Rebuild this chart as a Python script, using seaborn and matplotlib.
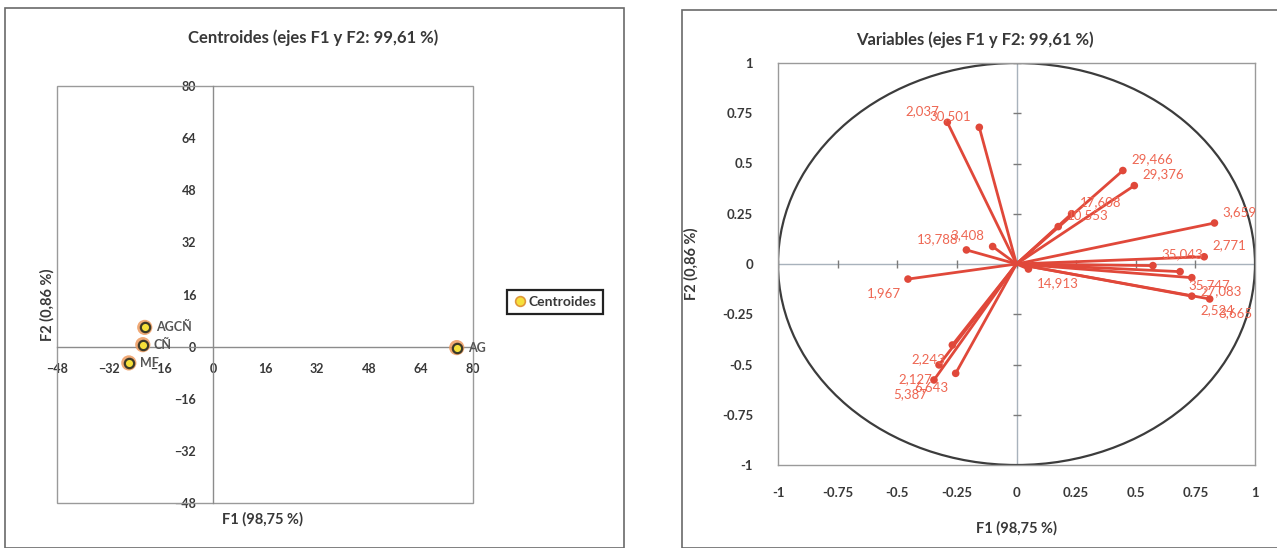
import matplotlib
matplotlib.use("Agg")
import matplotlib.pyplot as plt
from matplotlib.patches import Rectangle, Circle
from matplotlib.lines import Line2D
import seaborn as sns
import pandas as pd

# Centroides (F1, F2)
cent_names = ["AGCÑ", "CÑ", "MF", "AG"]
cent_f1 = [-21.0, -21.6, -25.9, 75.0]
cent_f2 = [5.9, 0.6, -5.0, -0.3]
cent_ticks = [-48, -32, -16, 0, 16, 32, 48, 64, 80]

# Variables (circulo de correlaciones)
var_labels = ["2,037", "30,501", "29,466", "29,376", "17,608", "10,553", "3,659",
              "13,788", "3,408", "1,967", "35,043", "2,771", "35,747", "27,083",
              "2,524", "3,665", "14,913", "2,243", "2,127", "6,643", "5,387"]
var_f1 = [-0.29, -0.156, 0.446, 0.494, 0.231, 0.175, 0.83,
          -0.21, -0.10, -0.455, 0.572, 0.787, 0.686, 0.735,
          0.735, 0.81, 0.05, -0.269, -0.325, -0.255, -0.346]
var_f2 = [0.705, 0.68, 0.465, 0.39, 0.25, 0.186, 0.204,
          0.07, 0.087, -0.075, -0.008, 0.036, -0.038, -0.068,
          -0.16, -0.174, -0.025, -0.403, -0.502, -0.544, -0.577]
var_ticks = [-1, -0.75, -0.5, -0.25, 0, 0.25, 0.5, 0.75, 1]
var_tick_labels = ["-1", "-0.75", "-0.5", "-0.25", "0", "0.25", "0.5", "0.75", "1"]

# lado de la etiqueta respecto al punto (estilo)
label_side = ["ul", "ul", "ur", "ur", "ur", "ur", "ur",
              "ul", "ul", "dl", "ur", "ur", "dr", "dr",
              "dr", "dr", "dr", "dl", "dl", "dl", "dl"]
side_offsets = {"ur": (6, 8, "left"), "ul": (-6, 8, "right"),
                "dr": (6, -10, "left"), "dl": (-5, -10, "right")}

sns.set_theme(style="white")
plt.rcParams["font.family"] = ["Lato", "DejaVu Sans"]

W, H = 1277, 548
TXT = "#383838"
RED = "#e0483a"

fig = plt.figure(figsize=(W / 100, H / 100), dpi=100)

# bordes de los dos paneles
fig.patches.append(Rectangle((5 / W, 0), 619 / W, 1 - 8 / H, transform=fig.transFigure,
                             fill=False, ec="#6a6a6a", lw=1.2))
fig.patches.append(Rectangle((682 / W, 0), 600 / W, 1 - 10 / H, transform=fig.transFigure,
                             fill=False, ec="#6a6a6a", lw=1.2))

# ---------------- Panel izquierdo: centroides ----------------
ax1 = fig.add_axes([57 / W, 1 - 503 / H, 416 / W, 417 / H])
df_c = pd.DataFrame({"F1": cent_f1, "F2": cent_f2, "name": cent_names})
ax1.set_xlim(-48, 80)
ax1.set_ylim(-48, 80)
for s in ["top", "right"]:
    ax1.spines[s].set_visible(False)
ax1.spines["left"].set_position(("data", 0))
ax1.spines["bottom"].set_position(("data", 0))
for s in ["left", "bottom"]:
    ax1.spines[s].set_color("#8c8c8c")
    ax1.spines[s].set_linewidth(1)
ax1.add_patch(Rectangle((0, 0), 1, 1, transform=ax1.transAxes, fill=False,
                        ec="#9a9a9a", lw=1, clip_on=False))
ax1.set_xticks(cent_ticks)
ax1.set_yticks(cent_ticks)
ax1.tick_params(direction="inout", length=6, width=1, color="#8c8c8c",
                labelsize=9, labelcolor=TXT, pad=9)
for lab in ax1.get_xticklabels() + ax1.get_yticklabels():
    lab.set_fontweight("bold")

sns.scatterplot(data=df_c, x="F1", y="F2", ax=ax1, s=120, color="#ee9a5e",
                edgecolor="none", alpha=0.85, legend=False, zorder=3)
sns.scatterplot(data=df_c, x="F1", y="F2", ax=ax1, s=45, color="#f6e03a",
                edgecolor="#3d3a28", linewidth=1.6, legend=False, zorder=4)
for _, row in df_c.iterrows():
    ax1.annotate(row["name"], (row["F1"], row["F2"]), textcoords="offset points",
                 xytext=(8, 0), va="center", fontsize=9, fontweight="bold",
                 color="#555555")
ax1.set_xlabel("")
ax1.set_ylabel("")

fig.text(313 / W, 1 - 38 / H, "Centroides (ejes F1 y F2: 99,61 %)", ha="center",
         va="center", fontsize=12, fontweight="bold", color=TXT)
fig.text(262 / W, 1 - 519 / H, "F1 (98,75 %)", ha="center", va="center",
         fontsize=10.5, fontweight="bold", color=TXT)
fig.text(47 / W, 1 - 305 / H, "F2 (0,86 %)", ha="center", va="center", rotation=90,
         fontsize=10.5, fontweight="bold", color=TXT)

handle = Line2D([], [], ls="none", marker="o", ms=7, mfc="#f6e03a", mec="#e0983a", mew=1.2)
leg = fig.legend([handle], ["Centroides"], loc="center",
                 bbox_to_anchor=(555 / W, 1 - 302 / H), frameon=True, fancybox=False,
                 framealpha=1, edgecolor="#222222", handletextpad=0.1, handlelength=1.0,
                 borderpad=0.45, prop={"weight": "bold", "size": 10})
leg.get_frame().set_linewidth(1.6)
for t in leg.get_texts():
    t.set_color(TXT)

# ---------------- Panel derecho: variables ----------------
ax2 = fig.add_axes([778 / W, 1 - 465 / H, 477 / W, 402 / H])
df_v = pd.DataFrame({"F1": var_f1, "F2": var_f2, "label": var_labels, "side": label_side})
ax2.set_xlim(-1, 1)
ax2.set_ylim(-1, 1)
for s in ax2.spines.values():
    s.set_color("#9a9a9a")
    s.set_linewidth(1)
ax2.set_xticks(var_ticks)
ax2.set_yticks(var_ticks)
ax2.set_xticklabels(var_tick_labels)
ax2.set_yticklabels(var_tick_labels)
ax2.tick_params(length=0, labelsize=9.5, labelcolor=TXT)
ax2.tick_params(axis="x", pad=16)
ax2.tick_params(axis="y", pad=18)
for lab in ax2.get_xticklabels() + ax2.get_yticklabels():
    lab.set_fontweight("bold")

ax2.axhline(0, color="#a8b2bc", lw=1, zorder=1)
ax2.axvline(0, color="#a8b2bc", lw=1, zorder=1)
ax2.plot(var_ticks, [0] * len(var_ticks), ls="none", marker="|", ms=6,
         mew=1, color="#7a7a7a", zorder=1)
ax2.plot([0] * len(var_ticks), var_ticks, ls="none", marker="_", ms=6,
         mew=1, color="#7a7a7a", zorder=1)
ax2.add_patch(Circle((0, 0), 1, fill=False, ec="#3c3c3c", lw=1.6, zorder=2))

for _, row in df_v.iterrows():
    ax2.plot([0, row["F1"]], [0, row["F2"]], color=RED, lw=2, zorder=3,
             solid_capstyle="round")
sns.scatterplot(data=df_v, x="F1", y="F2", ax=ax2, s=30, color=RED,
                edgecolor="none", legend=False, zorder=4)
for _, row in df_v.iterrows():
    dx, dy, ha = side_offsets[row["side"]]
    ax2.annotate(row["label"], (row["F1"], row["F2"]), textcoords="offset points",
                 xytext=(dx, dy), ha=ha, va="center", fontsize=9.5, color="#ee6652",
                 zorder=5)
ax2.set_xlabel("")
ax2.set_ylabel("")

fig.text(975 / W, 1 - 40 / H, "Variables (ejes F1 y F2: 99,61 %)", ha="center",
         va="center", fontsize=12, fontweight="bold", color=TXT)
fig.text(1016 / W, 1 - 528 / H, "F1 (98,75 %)", ha="center", va="center",
         fontsize=10.5, fontweight="bold", color=TXT)
fig.text(691 / W, 1 - 264 / H, "F2 (0,86 %)", ha="center", va="center", rotation=90,
         fontsize=10.5, fontweight="bold", color=TXT)

fig.savefig("out.png", dpi=100)
